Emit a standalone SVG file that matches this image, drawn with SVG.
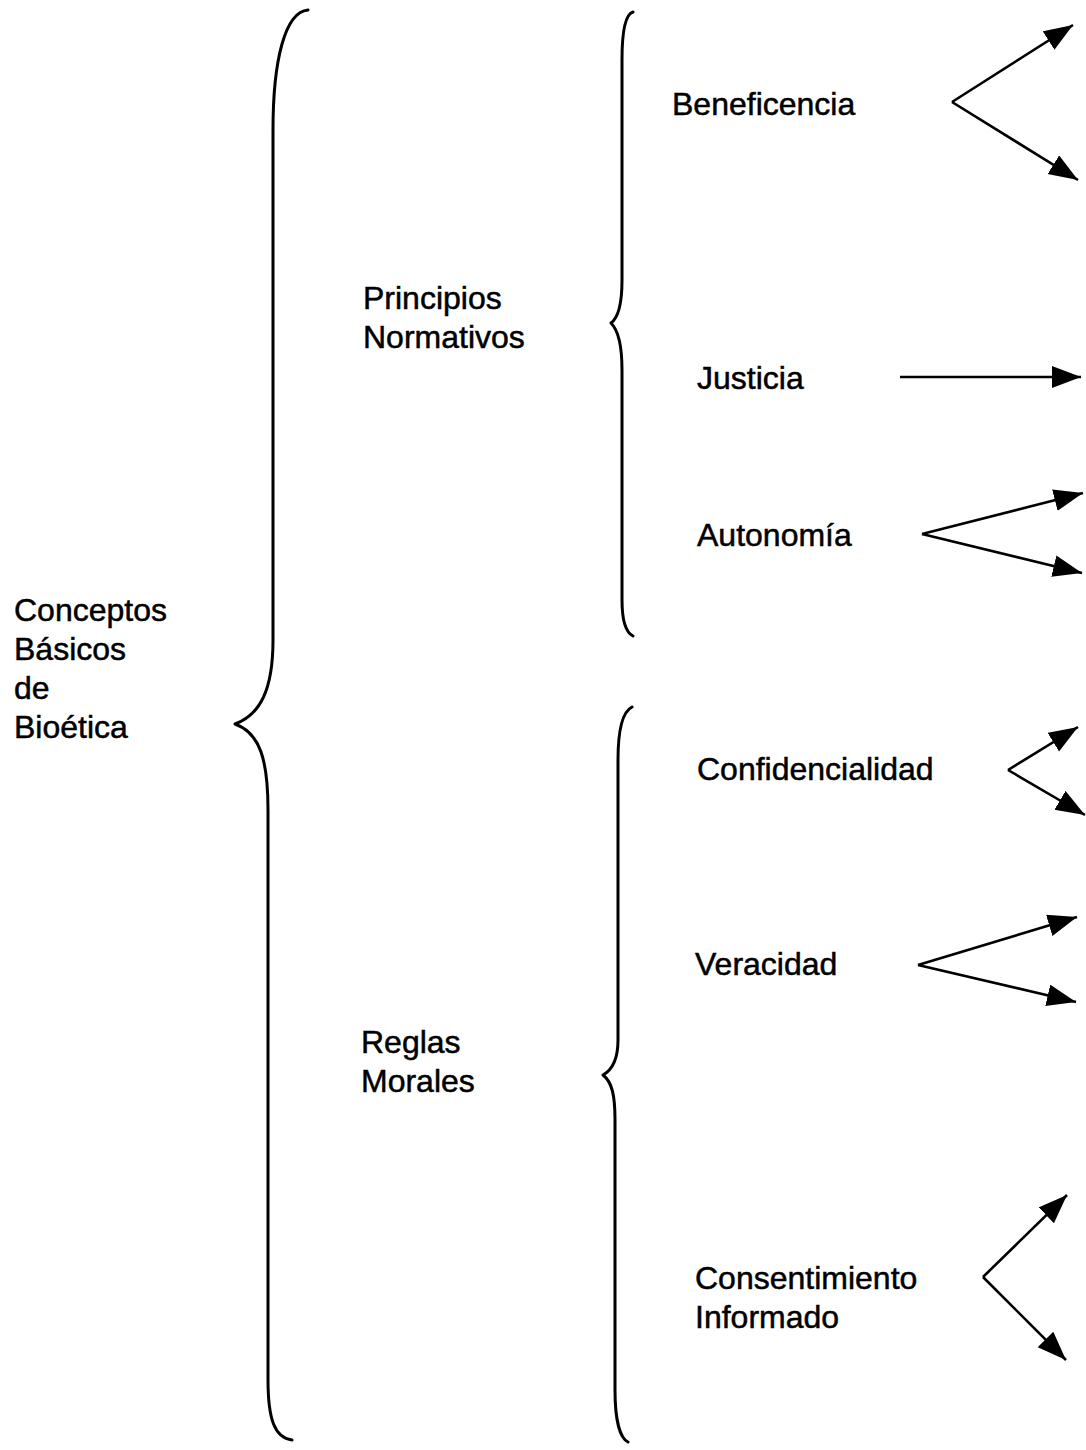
<svg xmlns="http://www.w3.org/2000/svg" width="1086" height="1450" viewBox="0 0 1086 1450">
<style>
text{font-family:"Liberation Sans",Arial,sans-serif;font-size:32px;fill:#000;stroke:#000;stroke-width:0.5}
.br{fill:none;stroke:#000;stroke-width:3;stroke-linecap:round;stroke-linejoin:round}
.ar{fill:none;stroke:#000;stroke-width:2.6;marker-end:url(#ah)}
</style>
<defs>
<marker id="ah" markerUnits="userSpaceOnUse" markerWidth="32" markerHeight="24" refX="29" refY="11" orient="auto">
<path d="M0,0 L29,11 L0,22 z" fill="#000"/>
</marker>
</defs>
<rect width="1086" height="1450" fill="#fff"/>
<g id="conceptos">
<text x="14" y="621">Conceptos</text>
<text x="14" y="660">Básicos</text>
<text x="14" y="699">de</text>
<text x="14" y="738">Bioética</text>
</g>
<g id="brace-main"><path class="br" d="M308,10 C285,12 273,60 273,130 L273,640 C273,690 260,715 235,724 C260,733 268,760 268,810 L268,1380 C268,1420 275,1438 292,1440"/></g>
<g id="principios">
<text x="363" y="309">Principios</text>
<text x="363" y="348">Normativos</text>
</g>
<g id="reglas">
<text x="361" y="1053">Reglas</text>
<text x="361" y="1092">Morales</text>
</g>
<g id="brace-principios"><path class="br" d="M633,12 C626,14 622,30 622,60 L622,280 C622,305 618,318 611,323 C618,330 622,345 622,370 L622,600 C622,620 625,632 633,636"/></g>
<g id="brace-reglas"><path class="br" d="M632,707 C622,712 618,730 618,760 L618,1040 C618,1060 612,1070 603,1075 C612,1082 615,1095 615,1120 L615,1390 C615,1420 620,1438 628,1442"/></g>
<g id="beneficencia"><text x="672" y="115">Beneficencia</text></g>
<g id="justicia"><text x="697" y="389">Justicia</text></g>
<g id="autonomia"><text x="697" y="546">Autonomía</text></g>
<g id="confidencialidad"><text x="697" y="780">Confidencialidad</text></g>
<g id="veracidad"><text x="695" y="975">Veracidad</text></g>
<g id="consentimiento">
<text x="695" y="1289">Consentimiento</text>
<text x="695" y="1328">Informado</text>
</g>
<g id="connectors">
<path class="ar" d="M952,102 L1073,25"/>
<path class="ar" d="M952,102 L1078,180"/>
<path class="ar" d="M900,377 L1081,377"/>
<path class="ar" d="M922,534 L1083,493"/>
<path class="ar" d="M922,534 L1082,573"/>
<path class="ar" d="M1008,770 L1078,727"/>
<path class="ar" d="M1008,770 L1085,815"/>
<path class="ar" d="M918,965 L1077,917"/>
<path class="ar" d="M918,965 L1076,1002"/>
<path class="ar" d="M983,1277 L1067,1195"/>
<path class="ar" d="M983,1277 L1066,1360"/>
</g>
</svg>
